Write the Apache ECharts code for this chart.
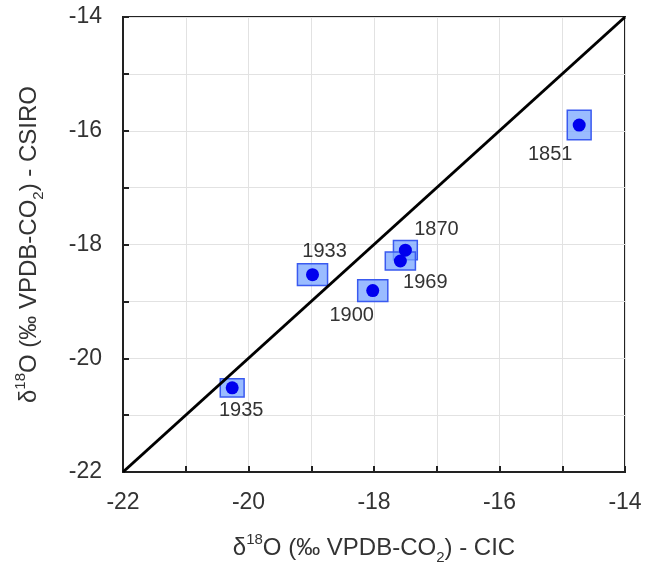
<!DOCTYPE html>
<html>
<head>
<meta charset="utf-8">
<script src="https://cdn.jsdelivr.net/npm/echarts@6/dist/echarts.min.js"></script>
<style>
html, body { margin: 0; padding: 0; background: #fff; }
#ct1 { width: 645px; height: 563px; }
</style>
</head>
<body>
<div id="ct1"></div>
<script>
// sample years and isotope values (CIC on x, CSIRO on y)
var years = ['1851', '1870', '1969', '1933', '1900', '1935'];
var cicValues = [-14.73, -17.50, -17.58, -18.98, -18.02, -20.26];
var csiroValues = [-15.90, -18.10, -18.29, -18.53, -18.81, -20.52];
// half widths of the uncertainty boxes
var cicErr = [0.19, 0.19, 0.24, 0.24, 0.24, 0.19];
var csiroErr = [0.26, 0.17, 0.16, 0.19, 0.19, 0.16];
// 1:1 line end points
var oneToOne = [[-22, -22], [-14, -14]];

// label placement (px from the dot)
var labelOffsets = [[-29, 29], [31, -21], [25, 21], [12, -23], [-21, 25], [9, 23]];

var myChart1 = echarts.init(document.getElementById('ct1'));

var boxData = [];
var dotData = [];
for (var i = 0; i < years.length; i++) {
	boxData.push([cicValues[i], csiroValues[i], cicErr[i], csiroErr[i]]);
	dotData.push({
		value: [cicValues[i], csiroValues[i]],
		name: years[i],
		label: { offset: labelOffsets[i] }
	});
}

var font = 'Liberation Sans, Arial, sans-serif';
var titleRich = {
	n: { fontSize: 24, fontFamily: font, color: '#333', lineHeight: 28, verticalAlign: 'bottom' },
	sup: { fontSize: 15, fontFamily: font, color: '#333', lineHeight: 28, verticalAlign: 'top', padding: [0, 0, 0, 0] },
	sub: { fontSize: 15, fontFamily: font, color: '#333', lineHeight: 28, verticalAlign: 'bottom', padding: [0, 0, -5, 0] }
};

function axisDef(title, gap) {
	return {
		type: 'value',
		min: -22,
		max: -14,
		interval: 1,
		name: title,
		nameLocation: 'middle',
		nameGap: gap,
		nameTextStyle: { rich: titleRich },
		axisLine: { show: true, onZero: false, lineStyle: { color: '#222', width: 2 } },
		axisTick: { show: true, inside: true, length: 6, lineStyle: { color: '#222', width: 2 } },
		splitLine: { show: true, lineStyle: { color: '#e2e2e2', width: 1 } },
		axisLabel: {
			color: '#333',
			fontSize: 23,
			fontFamily: font,
			margin: 19,
			formatter: function(v) {
				return v % 2 === 0 ? String(v) : '';
			}
		}
	};
}

var xAxisOpt = axisDef('{n|δ}{sup|18}{n|O (‰ VPDB-CO}{sub|2}{n|) - CIC}', 60);
var yAxisOpt = axisDef('{n|δ}{sup|18}{n|O (‰ VPDB-CO}{sub|2}{n|) - CSIRO}', 82);
yAxisOpt.axisLabel.margin = 21;

var option1 = {
	animation: false,
	backgroundColor: '#fff',
	grid: {
		left: 123,
		top: 17,
		right: 20,
		bottom: 91,
		containLabel: false,
		outerBoundsMode: 'none',
		show: true,
		borderColor: '#222',
		borderWidth: 2,
		backgroundColor: 'transparent'
	},
	xAxis: xAxisOpt,
	yAxis: yAxisOpt,
	series: [{
		type: 'custom',
		z: 2,
		data: boxData,
		renderItem: function(params, api) {
			var x = api.value(0), y = api.value(1), ex = api.value(2), ey = api.value(3);
			var p1 = api.coord([x - ex, y + ey]);
			var p2 = api.coord([x + ex, y - ey]);
			return {
				type: 'rect',
				shape: { x: p1[0], y: p1[1], width: p2[0] - p1[0], height: p2[1] - p1[1] },
				style: { fill: 'rgba(120,165,255,0.75)', stroke: '#3a5af0', lineWidth: 1.5 }
			};
		}
	}, {
		type: 'line',
		z: 3,
		data: oneToOne,
		symbol: 'none',
		lineStyle: { color: '#000', width: 3 }
	}, {
		type: 'scatter',
		z: 4,
		data: dotData,
		symbolSize: 13,
		itemStyle: { color: '#0000ee', opacity: 1 },
		label: {
			show: true,
			position: 'inside',
			formatter: '{b}',
			color: '#333',
			fontSize: 20,
			fontFamily: font
		}
	}]
};

myChart1.setOption(option1, true);
</script>
</body>
</html>
